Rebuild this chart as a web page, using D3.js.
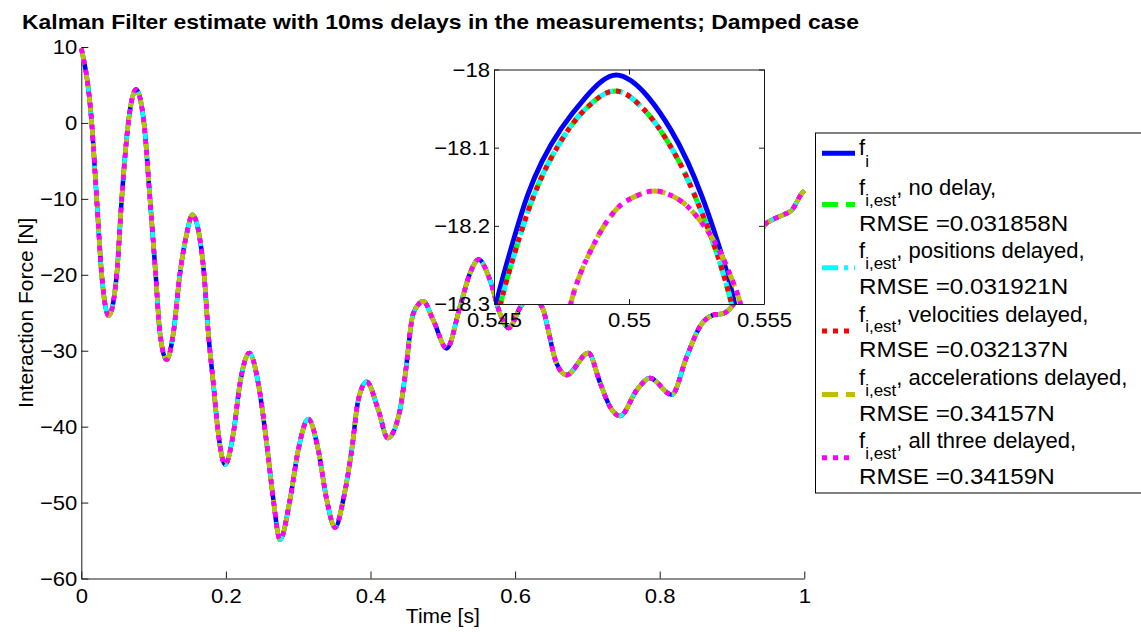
<!DOCTYPE html>
<html><head><meta charset="utf-8">
<script src="https://cdn.jsdelivr.net/npm/d3@7"></script>
<style>
body{margin:0;background:#fff;}
svg{display:block;font-family:"Liberation Sans",Arial,Helvetica,sans-serif;}
</style></head>
<body><svg id="c" width="1141" height="632"></svg>
<script>
// ---- data ----
const tMain = [0.000,0.0144,0.0213,0.0282,0.0379,0.049,0.0559,0.065,0.0757,0.0867,0.095,0.1029,0.1088,0.1181,0.1273,0.1365,0.1458,0.1536,0.1642,0.1697,0.1757,0.1826,0.1895,0.1988,0.2103,0.2195,0.2324,0.2448,0.2564,0.2656,0.2748,0.2887,0.300,0.314,0.3278,0.3394,0.351,0.3624,0.374,0.3831,0.3947,0.4108,0.4238,0.4408,0.4477,0.4592,0.473,0.4869,0.5054,0.5238,0.5376,0.5495,0.5653,0.5791,0.591,0.6077,0.622,0.639,0.6437,0.6575,0.6713,0.7013,0.7178,0.7313,0.7452,0.7682,0.7866,0.8166,0.8373,0.8557,0.8741,0.888,0.8996,0.915,0.93,0.9456,0.9549,0.971,0.9826,0.9964,1.0];
const fMain = [9.8,0,-10,-20,-25.4,-20,-10,0,4.4,0,-10,-20,-27.7,-31.2,-27.7,-19.8,-14.6,-12.1,-15.4,-19.8,-27.7,-34.3,-40.9,-45.0,-40.9,-34.3,-30.3,-34.3,-42.2,-49.6,-54.9,-49.6,-43.1,-39.0,-43.1,-49.6,-53.3,-49.6,-43.1,-36.5,-34.1,-37.8,-41.5,-37.8,-33.4,-25.1,-23.5,-26.0,-29.7,-24.2,-19.8,-18.0,-20.7,-25.1,-27.0,-24.2,-22.8,-24.6,-26.4,-31.7,-33.2,-30.3,-34.3,-37.4,-38.6,-35.2,-33.6,-35.8,-30.8,-26.8,-25.3,-25.1,-24.2,-21.5,-17.0,-13.4,-12.8,-12.1,-11.5,-9.3,-8.9];

const tInsetTrue = [0.54495,0.54504,0.54584,0.54622,0.54674,0.54744,0.54843,0.54905,0.54952,0.55004,0.55071,0.55156,0.55219,0.55270,0.55313,0.55352,0.55393,0.55402];
const fInsetTrue = [-18.33,-18.2997,-18.2037,-18.161,-18.118,-18.0757,-18.033,-18.0118,-18.0046,-18.0118,-18.033,-18.0757,-18.118,-18.161,-18.2037,-18.246,-18.2975,-18.33];
const tInsetEst = [0.54510,0.54520,0.54603,0.54646,0.54701,0.54775,0.54825,0.54893,0.54948,0.55004,0.55066,0.55115,0.55189,0.55244,0.55294,0.55337,0.55372,0.55380,0.55390];
const fInsetEst = [-18.33,-18.2997,-18.2037,-18.161,-18.118,-18.0757,-18.0544,-18.033,-18.0246,-18.033,-18.0544,-18.0757,-18.118,-18.161,-18.2037,-18.246,-18.2887,-18.2997,-18.33];
const tInsetDelay = [0.54770,0.54781,0.54812,0.54837,0.54868,0.54899,0.54942,0.54979,0.55029,0.55096,0.55158,0.55201,0.55238,0.55288,0.55325,0.55356,0.55380,0.55417,0.55428];
const fInsetDelay = [-18.33,-18.2997,-18.2676,-18.2463,-18.2249,-18.2037,-18.1823,-18.1695,-18.161,-18.1525,-18.161,-18.1695,-18.1823,-18.2037,-18.2249,-18.2463,-18.2676,-18.2997,-18.33];

const mainYTicks = [-60,-50,-40,-30,-20,-10,0,10];
const mainXTicks = [0,0.2,0.4,0.6,0.8,1];
const insetYTicks = [-18.3,-18.2,-18.1,-18];
const insetXTicks = [0.545,0.55,0.555];

const legendHead = ["", ", no delay,", ", positions delayed,", ", velocities delayed,", ", accelerations delayed,", ", all three delayed,"];
const legendSub = ["i","i,est","i,est","i,est","i,est","i,est"];
const legendRmse = ["", "RMSE =0.031858N", "RMSE =0.031921N", "RMSE =0.032137N", "RMSE =0.34157N", "RMSE =0.34159N"];
const seriesColors = ["#0000ff","#00ff00","#00ffff","#ff0000","#bfbf00","#ff00ff"];
const seriesDash = [null,"16,8","16,6,4,6","5,6","16,8","5,6"];
const insetSeries = [[tInsetTrue,fInsetTrue],[tInsetEst,fInsetEst],[tInsetEst,fInsetEst],[tInsetEst,fInsetEst],[tInsetDelay,fInsetDelay],[tInsetDelay,fInsetDelay]];

const titleText = "Kalman Filter estimate with 10ms delays in the measurements; Damped case";
// ---------------------------------------

const svg = d3.select("#c");
svg.append("rect").attr("width",1141).attr("height",632).attr("fill","#fff");
const FS = 21, LW = 5, AX = "#1a1a1a";
const fmt = d => String(d).replace("-", "\u2212");
function stretch(sel,k){ sel.each(function(){ const L=this.getComputedTextLength(); this.setAttribute("textLength", L*k); this.setAttribute("lengthAdjust","spacingAndGlyphs"); }); }

const x = d3.scaleLinear().domain([0,1]).range([81.3,804.3]);
const y = d3.scaleLinear().domain([-60,10]).range([578.5,47]);

function styleAxis(g){
  g.selectAll("path").attr("stroke",AX).attr("stroke-width",1);
  g.selectAll("line").attr("stroke",AX).attr("stroke-width",1);
  g.selectAll("text").attr("font-size",FS).attr("font-family","Liberation Sans, Arial, sans-serif").attr("fill","#000");
  stretch(g.selectAll("text"),1.05);
}

svg.append("g").attr("transform","translate(0,578.5)")
  .call(d3.axisBottom(x).tickValues(mainXTicks).tickFormat(fmt).tickSizeInner(-7).tickSizeOuter(0).tickPadding(10))
  .call(styleAxis);
svg.append("g").attr("transform","translate(81.3,0)")
  .call(d3.axisLeft(y).tickValues(mainYTicks).tickFormat(fmt).tickSizeInner(-7).tickSizeOuter(0).tickPadding(4))
  .call(styleAxis);

const lineMain = d3.line().x((d,i)=>x(tMain[i])).y(d=>y(d)).curve(d3.curveMonotoneX);
for(let s=0;s<6;s++){
  svg.append("path").attr("d",lineMain(fMain)).attr("fill","none")
    .attr("stroke",seriesColors[s]).attr("stroke-width",LW-0.5)
    .attr("stroke-dasharray",seriesDash[s]).attr("stroke-linejoin","round");
}

// title & labels
svg.append("text").attr("x",22).attr("y",29).attr("font-size",21).attr("font-weight","bold")
  .attr("textLength",837).attr("lengthAdjust","spacingAndGlyphs").text(titleText);
svg.append("text").attr("x",442.8).attr("y",623).attr("text-anchor","middle").attr("font-size",FS).text("Time [s]");
svg.append("text").attr("transform","translate(33,312.8) rotate(-90)").attr("text-anchor","middle").attr("font-size",FS).text("Interaction Force [N]");

// inset
const ix = d3.scaleLinear().domain([0.545,0.555]).range([494,764]);
const iy = d3.scaleLinear().domain([-18.3,-18]).range([304,69.5]);
svg.append("rect").attr("x",494).attr("y",69.5).attr("width",270).attr("height",234.5).attr("fill","#fff");
svg.append("clipPath").attr("id","ic").append("rect").attr("x",494).attr("y",69.5).attr("width",270).attr("height",234.5);
const ig = svg.append("g").attr("clip-path","url(#ic)");
for(let s=0;s<6;s++){
  const [tt,ff] = insetSeries[s];
  const ln = d3.line().x((d,i)=>ix(tt[i])).y(d=>iy(d)).curve(d3.curveBasis);
  ig.append("path").attr("d",ln(ff)).attr("fill","none")
    .attr("stroke",seriesColors[s]).attr("stroke-width",LW)
    .attr("stroke-dasharray",seriesDash[s]);
}
svg.append("g").attr("transform","translate(0,304)")
  .call(d3.axisBottom(ix).tickValues(insetXTicks).tickFormat(fmt).tickSizeInner(-5).tickSizeOuter(0).tickPadding(8)).call(styleAxis);
svg.append("g").attr("transform","translate(0,69.5)")
  .call(d3.axisTop(ix).tickValues(insetXTicks).tickFormat("").tickSizeInner(-5).tickSizeOuter(0)).call(styleAxis);
svg.append("g").attr("transform","translate(494,0)")
  .call(d3.axisLeft(iy).tickValues(insetYTicks).tickFormat(fmt).tickSizeInner(-5).tickSizeOuter(0).tickPadding(4)).call(styleAxis);
svg.append("g").attr("transform","translate(764,0)")
  .call(d3.axisRight(iy).tickValues(insetYTicks).tickFormat("").tickSizeInner(-5).tickSizeOuter(0)).call(styleAxis);

// legend
const lg = svg.append("g");
lg.append("rect").attr("x",815.5).attr("y",133).attr("width",340).attr("height",360).attr("fill","#fff").attr("stroke","#000").attr("stroke-width",1);
for(let s=0;s<6;s++){
  const base = s===0 ? 155 : 195 + (s-1)*63.3;
  const sy = s===0 ? 153.3 : base + 9.5;
  lg.append("line").attr("x1",822).attr("x2",855).attr("y1",sy).attr("y2",sy)
    .attr("stroke",seriesColors[s]).attr("stroke-width",LW).attr("stroke-dasharray",seriesDash[s]);
  const t = lg.append("text").attr("x",859).attr("y",base).attr("font-size",22);
  t.append("tspan").text("f");
  t.append("tspan").attr("dy", s===0?11.5:10.7).attr("font-size",17).text(legendSub[s]);
  if(legendHead[s]) t.append("tspan").attr("dy",-10.7).text(legendHead[s]);
  if(legendRmse[s]) stretch(lg.append("text").attr("x",859).attr("y",base+35.7).attr("font-size",22).text(legendRmse[s]),1.1);
}
</script></body></html>
